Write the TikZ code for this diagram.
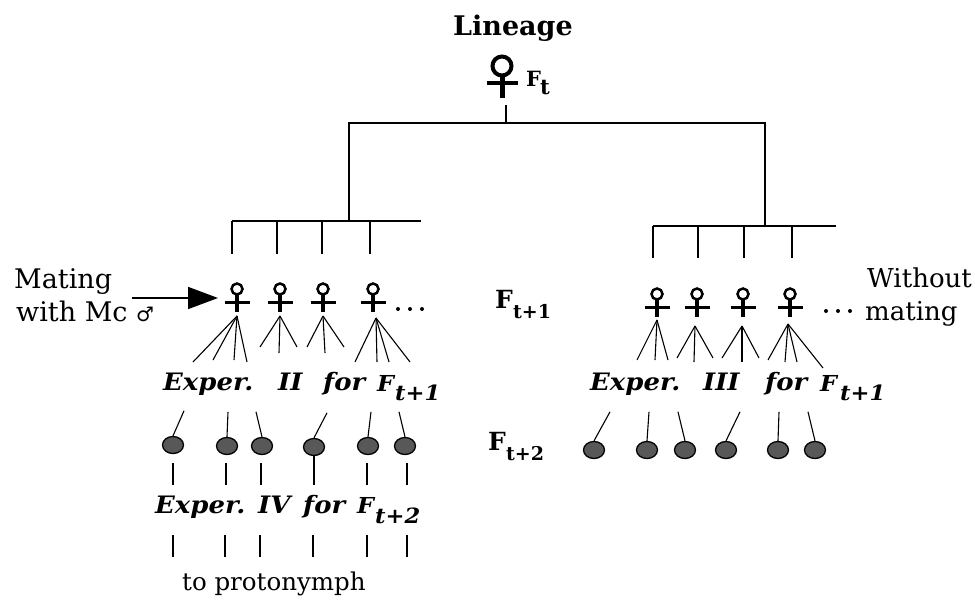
\documentclass[tikz,border=0pt]{standalone}
\usepackage{fontspec}
\setmainfont{DejaVu Serif}
\newfontfamily\symfnt{DejaVu Sans}
\newfontfamily\experfam[FakeStretch=1.08]{DejaVu Serif}
\usetikzlibrary{shapes.geometric,arrows.meta}
\definecolor{dotgray}{HTML}{585858}
\begin{document}
\begin{tikzpicture}[x=1pt,y=-1pt,
  tree/.style={line width=1.8pt},
  fan/.style={line width=1.1pt},
  dotnode/.style={ellipse, draw=black, line width=1.3pt, fill=dotgray, minimum width=21pt, minimum height=17pt, inner sep=0pt},
  lbl/.style={inner sep=0pt, anchor=base west},
  title/.style={lbl, font=\bfseries\fontsize{27}{30}\selectfont},
  plain/.style={lbl, font=\fontsize{27}{30}\selectfont},
  small/.style={lbl, font=\fontsize{24.5}{27}\selectfont},
  genF/.style={lbl, font=\bfseries\fontsize{25}{28}\selectfont},
  genS/.style={lbl, font=\bfseries\fontsize{19}{22}\selectfont},
  exper/.style={lbl, font=\experfam\bfseries\itshape\fontsize{24}{27}\selectfont},
  experF/.style={lbl, font=\experfam\bfseries\itshape\fontsize{22}{24}\selectfont},
  experS/.style={lbl, font=\experfam\bfseries\itshape\fontsize{21}{24}\selectfont},
  ellip/.style={fill=black, circle, inner sep=0pt, minimum size=4pt},
  femsmall/.pic={
    \draw[line width=2.5pt] (0,0) circle (5.5pt);
    \draw[line width=3.4pt] (0,6) -- (0,23);
    \draw[line width=3pt] (-12.5,13) -- (12.5,13);
  },
  fembig/.pic={
    \draw[line width=4pt] (0,0) circle (9.5pt);
    \draw[line width=5pt] (0,9.5) -- (0,32);
    \draw[line width=4pt] (-15.5,17) -- (15.5,17);
  }
]
\useasboundingbox (0,0) rectangle (975,602);

% ---------- top ----------
\node[title] (lineage) at (453,36) {Lineage};
\coordinate (ftop) at (502,66);
\pic at (ftop) {fembig};
\node[genS, font=\bfseries\fontsize{21}{24}\selectfont] (Ft) at (526,87) {F};
\node[genS, font=\bfseries\fontsize{21}{24}\selectfont] (Ftsub) at (540,95) {t};

% ---------- tree ----------
\coordinate (root) at (506,105);
\coordinate (rootbar) at (506,123);
\coordinate (lbr) at (349,123);
\coordinate (rbr) at (765,123);
\coordinate (lbar) at (349,221);
\coordinate (rbar) at (765,226);
\draw[tree] (root) -- (rootbar);
\draw[tree] (lbar) -- (lbr) -- (rbr) -- (rbar);
\draw[tree] (232,221) -- (421,221);
\draw[tree] (653,226) -- (836,226);
\foreach \x in {232,277,322,370} \draw[tree] (\x,221) -- (\x,254);
\foreach \x in {653,698,744,792} \draw[tree] (\x,226) -- (\x,258);

% ---------- F t+1 females ----------
\foreach \n/\x in {1/237,2/280,3/323,4/373} {
  \coordinate (fL\n) at (\x,289);
  \pic at (fL\n) {femsmall};
}
\foreach \n/\x in {1/657,2/697,3/743,4/790} {
  \coordinate (fR\n) at (\x,294);
  \pic at (fR\n) {femsmall};
}
\foreach \n/\x in {1/398,2/410,3/422} \node[ellip] (eL\n) at (\x,309) {};
\foreach \n/\x in {1/826,2/838,3/850} \node[ellip] (eR\n) at (\x,311) {};

% mating arrow
\node[plain] (mating1) at (14,288) {Mating};
\node[plain] (mating2) at (16,321) {with Mc {\symfnt\fontsize{20}{22}\selectfont ♂}};
\coordinate (arrstart) at (132,298);
\coordinate (arrend) at (218,298);
\draw[tree, -{Triangle[length=30pt,width=22pt]}] (arrstart) -- (arrend);

\node[lbl, font=\fontsize{26}{30}\selectfont] (without1) at (867,287) {Without};
\node[lbl, font=\fontsize{26}{30}\selectfont] (without2) at (865,320) {mating};

% generation labels
\node[genF] (Ft1) at (495,308) {F};
\node[genS] (Ft1s) at (513,318) {t+1};
\node[genF] (Ft2) at (488,450) {F};
\node[genS] (Ft2s) at (506,460) {t+2};

% ---------- fans ----------
\coordinate (aL1) at (237,316);
\coordinate (aL2) at (280,316);
\coordinate (aL3) at (323,316);
\coordinate (aL4) at (376,318);
\foreach \dx/\dy in {-44/46,-24/44,-3/44,10/46} \draw[fan] (aL1) -- ++(\dx,\dy);
\foreach \dx/\dy in {-20/31,-1/37,17/31} \draw[fan] (aL2) -- ++(\dx,\dy);
\foreach \dx/\dy in {-16/31,2/37,21/31} \draw[fan] (aL3) -- ++(\dx,\dy);
\foreach \dx/\dy in {-21/44,1/44,13/44,34/44} \draw[fan] (aL4) -- ++(\dx,\dy);

\coordinate (aR1) at (657,320);
\coordinate (aR2) at (695,326);
\coordinate (aR3) at (742,326);
\coordinate (aR4) at (788,324);
\foreach \dx/\dy in {-20/40,-2/40,11/40} \draw[fan] (aR1) -- ++(\dx,\dy);
\foreach \dx/\dy in {-18/32,-1/36,18/32} \draw[fan] (aR2) -- ++(\dx,\dy);
\foreach \dx/\dy in {-20/32,0/36,17/32} \draw[fan] (aR3) -- ++(\dx,\dy);
\foreach \dx/\dy in {-20/36,-3/38,9/38,35/44} \draw[fan] (aR4) -- ++(\dx,\dy);

% ---------- Exper labels ----------
\node[exper] (e2a) at (163,390) {Exper.};
\node[exper] (e2b) at (278,390) {II};
\node[exper] (e2c) at (323,390) {for};
\node[experF] (e2d) at (377,391) {F};
\node[experS] (e2e) at (395,400) {t+1};

\node[exper] (e3a) at (590,390) {Exper.};
\node[exper] (e3b) at (703,390) {III};
\node[exper] (e3c) at (765,390) {for};
\node[experF] (e3d) at (820,391) {F};
\node[experS] (e3e) at (840,400) {t+1};

\node[exper] (e4a) at (155,513) {Exper.};
\node[exper] (e4b) at (258,513) {IV};
\node[exper] (e4c) at (303,513) {for};
\node[experF] (e4d) at (357,513) {F};
\node[experS] (e4e) at (375,523) {t+2};

\node[small] (proto) at (182,590) {to protonymph};

% ---------- F t+2 dots ----------
\foreach \n/\x/\y/\dx in {1/173/445/11,2/227/446/1,3/262/446/-6,4/314/447/13,5/368/446/3,6/405/446/-6} {
  \node[dotnode] (dL\n) at (\x,\y) {};
  \draw[fan] (dL\n.north) -- ++(\dx,-25);
}
\foreach \n/\x/\dx in {1/594/16,2/647/2,3/685/-7,4/726/14,5/778/1,6/815/-7} {
  \node[dotnode] (dR\n) at (\x,450) {};
  \draw[fan] (dR\n.north) -- ++(\dx,-29);
}
% lines below left dots
\foreach \x in {173,226,261,367,407} \draw[fan] (\x,463) -- (\x,485);
\draw[fan] (dL4.south) -- (314,485);
\foreach \x in {173,225,260,313,367,407} \draw[fan] (\x,535) -- (\x,557);
\end{tikzpicture}
\end{document}
